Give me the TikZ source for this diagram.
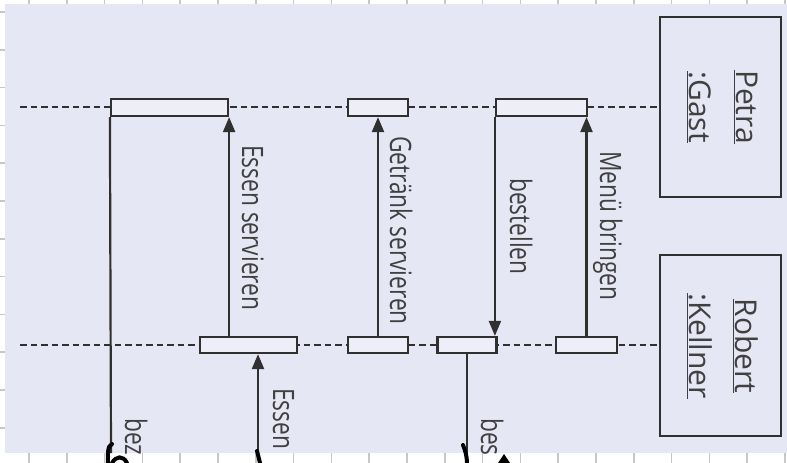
\documentclass[tikz,border=0pt]{standalone}
\usepackage{fontspec}
\setmainfont{Open Sans}
\usetikzlibrary{arrows.meta,calc}
\definecolor{panel}{HTML}{E6E7F4}
\definecolor{ln}{HTML}{303030}
\definecolor{txt}{HTML}{404040}
\definecolor{barfill}{HTML}{EDEEF7}
\definecolor{tick}{HTML}{C8C8C8}
\newcommand{\msgtxt}[1]{\scalebox{0.77}[1]{#1}}
\begin{document}
\begin{tikzpicture}[x=1pt,y=-1pt,
  lifeline/.style={draw=ln, line width=2.2pt, dash pattern=on 6.5pt off 4pt},
  headbox/.style={draw=ln, line width=2.2pt, fill=panel, minimum width=121pt, minimum height=180pt, inner sep=0pt},
  actbar/.style={draw=ln, line width=2.2pt, fill=barfill, minimum height=17pt, inner sep=0pt},
  msg/.style={draw=ln, line width=2.2pt, -{Triangle[length=15pt,width=12pt]}},
  plainline/.style={draw=ln, line width=2.2pt},
  lbl/.style={rotate=-90, anchor=base west, inner sep=0pt, text=txt, font=\fontsize{29.5}{32}\selectfont},
  objname/.style={rotate=-90, anchor=base, inner sep=0pt, text=txt, font=\fontsize{30}{34}\selectfont},
  hand/.style={draw=black, line width=4pt, line cap=round},
  tickmark/.style={draw=tick, line width=1.5pt}]
\useasboundingbox (0,0) rectangle (787,463);
\fill[white] (0,0) rectangle (787,463);
\fill[panel] (5,4) rectangle (787,453);
% ticks
\foreach \i in {0,...,20} {
  \draw[tickmark] ({29+37.8*\i},0) -- ({29+37.8*\i},4);
  \draw[tickmark] ({29+37.8*\i},453) -- ({29+37.8*\i},463);
}
\foreach \i in {0,...,11} {
  \draw[tickmark] (0,{12+37.8*\i}) -- (5,{12+37.8*\i});
}
% heads
\node[headbox] (petra) at (720.5,107) {};
\node[headbox, minimum height=181pt] (robert) at (720.5,345.5) {};
\node[objname] (petraN) at (736,107) {\underline{Petra}};
\node[objname] (gastN) at (689,107) {\underline{:Gast}};
\node[objname] (robertN) at (735,346) {\underline{Robert}};
\node[objname] (kellnerN) at (689,346) {\underline{:Kellner}};
% lifelines
\coordinate (gStart) at (20,107);
\coordinate (kStart) at (20,345);
\draw[lifeline] (gStart) -- (petra.west);
\draw[lifeline] (kStart) -- (kStart -| robert.west);
% activation bars
\node[actbar, minimum width=117pt] (A) at (169.5,107.5) {};
\node[actbar, minimum width=60pt] (B) at (378,107.5) {};
\node[actbar, minimum width=91pt] (C) at (541.5,107.5) {};
\node[actbar, minimum width=97pt, minimum height=16pt] (D) at (248.5,345) {};
\node[actbar, minimum width=60pt, minimum height=16pt] (E) at (378,345) {};
\node[actbar, minimum width=59pt, minimum height=16pt] (F) at (467,345) {};
\node[actbar, minimum width=61pt, minimum height=16pt] (G) at (586.5,345) {};
% free ends
\coordinate (bezEnd) at (111,453);
\coordinate (essenStart) at (258,453);
\coordinate (besEnd) at (467,453);
% messages
\draw[msg] (D.north -| A.south east) -- (A.south east);
\draw[msg] (E.north) -- (B.south);
\draw[msg] (C.south west) -- (C.south west |- F.north);
\draw[msg] (G.north) -- (G.north |- C.south);
\draw[plainline] (A.south west) -- (bezEnd);
\draw[msg] (essenStart) -- (essenStart |- D.south);
\draw[plainline] (F.south) -- (besEnd);
% labels
\node[lbl] (l1) at (242,145) {\msgtxt{Essen servieren}};
\node[lbl] (l2) at (390,136) {\msgtxt{Getränk servieren}};
\node[lbl] (l3) at (510,178) {\msgtxt{bestellen}};
\node[lbl] (l4) at (600,151) {\msgtxt{Menü bringen}};
\node[lbl] (l5) at (273,388) {\msgtxt{Essen}};
\node[lbl] (l6) at (125,418) {\msgtxt{bez}};
\node[lbl] (l7) at (481,418) {\msgtxt{bes}};
% hand strokes
\draw[hand] (112,444) .. controls (107,446) and (108,455) .. (108,463);
\draw[hand] (112,463) .. controls (116,456) and (123,455) .. (127,463);
\draw[hand] (257,451) -- (260,463);
\draw[hand] (463,445) .. controls (465,450) and (467,456) .. (467,463);
\fill[black] (504,454) -- (510,463) -- (498,463) -- cycle;
\end{tikzpicture}
\end{document}
